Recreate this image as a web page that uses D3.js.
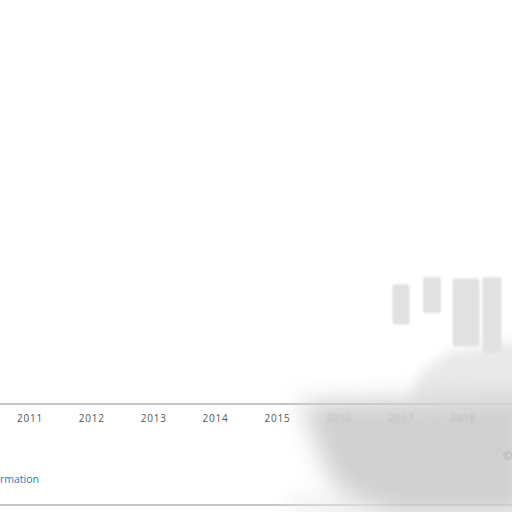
<!DOCTYPE html>
<html><head><meta charset="utf-8">
<script src="https://cdn.jsdelivr.net/npm/d3@7"></script>
<style>html,body{margin:0;padding:0;background:#fff;overflow:hidden}svg{display:block}</style>
</head><body>
<script>
const years = [2011, 2012, 2013, 2014, 2015, 2016, 2017, 2018];
const barPos = [401, 432, 466, 492];      // ghost bar centres (px along timeline)
const barHigh = [92, 98, 97, 98];         // ghost bar tops (value units)
const barLow = [57, 67, 38, 32];          // ghost bar bottoms (value units)
const barWidth = [17, 18, 27, 19];

const W = 512, H = 512;
const svg = d3.select("body").append("svg").attr("width", W).attr("height", H);
const defs = svg.append("defs");
function blur(id, s) {
  defs.append("filter").attr("id", id).attr("x","-50%").attr("y","-50%").attr("width","200%").attr("height","200%")
    .append("feGaussianBlur").attr("stdDeviation", s);
}
blur("blur", 12); blur("blurM", 6); blur("blurS", 1.2);

const x = d3.scaleLinear().domain([2011, 2018]).range([30, 463]);
const y = d3.scaleLinear().domain([0, 100]).range([390, 275]);

// panel frame
svg.append("rect").attr("x", -6).attr("y", 404).attr("width", W + 12).attr("height", 101)
  .attr("rx", 6).attr("fill", "#fff").attr("stroke", "#c4c4c4").attr("stroke-width", 2);

// light haze above the frame, under the bars
svg.append("path").attr("filter", "url(#blurM)")
  .attr("d", "M410,400 L420,372 L450,352 L520,340 L520,404 Z").attr("fill", "#e9e9e9");

// ghost bars
const gb = svg.append("g").attr("filter", "url(#blurS)");
gb.selectAll("rect").data(barPos).join("rect")
  .attr("x", (d, i) => d - barWidth[i] / 2)
  .attr("width", (d, i) => barWidth[i])
  .attr("y", (d, i) => y(barHigh[i]))
  .attr("height", (d, i) => y(barLow[i]) - y(barHigh[i]))
  .attr("rx", 3)
  .attr("fill", "#e1e1e1");

// haze over the panel
const hz = svg.append("g").attr("filter", "url(#blur)");
hz.append("path").attr("d", "M300,402 L530,395 L530,515 L380,515 L330,480 Z").attr("fill", "#d0d0d0");
hz.append("path").attr("d", "M290,500 L380,500 L380,515 L290,515 Z").attr("fill", "#e8e8e8");

// year axis
const ax = svg.append("g");
ax.selectAll("text").data(years).join("text")
  .attr("x", d => x(d)).attr("y", 422)
  .attr("text-anchor", "middle")
  .attr("font-family", "Open Sans, sans-serif").attr("font-size", 10)
  .attr("letter-spacing", 0.8)
  .attr("fill", d => d >= 2016 ? "#bcbcbc" : "#555")
  .attr("filter", d => d >= 2016 ? "url(#blurS)" : null)
  .text(d => d);

svg.append("text").attr("x", 0).attr("y", 483)
  .attr("font-family", "Open Sans, sans-serif").attr("font-size", 10.5)
  .attr("fill", "#2b7bb5").text("rmation");

svg.append("text").attr("x", 503).attr("y", 460)
  .attr("font-family", "Open Sans, sans-serif").attr("font-size", 11)
  .attr("fill", "#aaa").text("©");
</script>
</body></html>
